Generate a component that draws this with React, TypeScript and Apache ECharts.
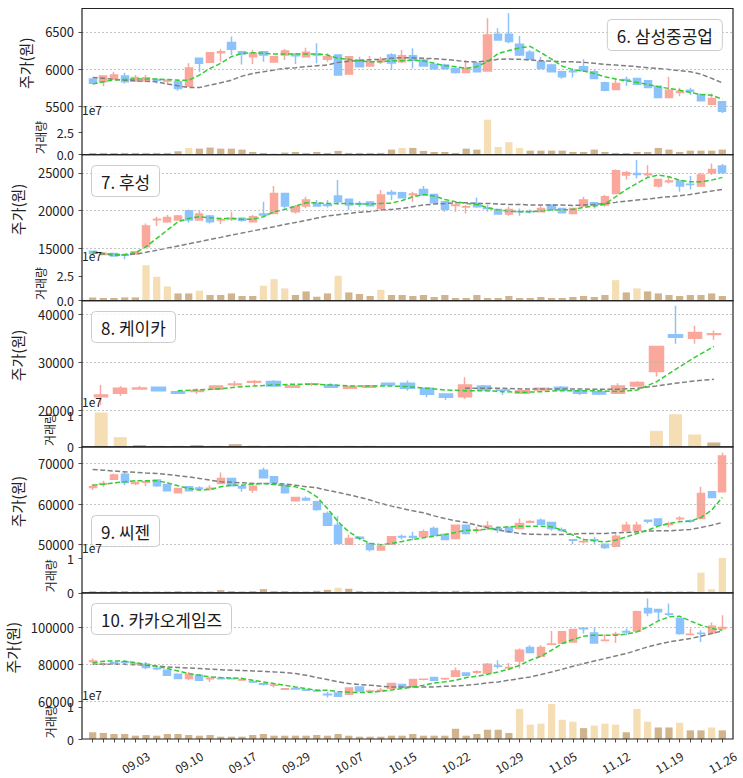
import React, { useEffect, useRef } from 'react';
import * as echarts from 'echarts';

// ---------- DATA ----------
const dates = ['08.30','08.31','09.01','09.02','09.03','09.06','09.07','09.08','09.09','09.10','09.13','09.14','09.15','09.16','09.17','09.23','09.24','09.27','09.28','09.29','09.30','10.01','10.05','10.06','10.07','10.08','10.12','10.13','10.14','10.15','10.18','10.19','10.20','10.21','10.22','10.25','10.26','10.27','10.28','10.29','11.01','11.02','11.03','11.04','11.05','11.08','11.09','11.10','11.11','11.12','11.15','11.16','11.17','11.18','11.19','11.22','11.23','11.24','11.25','11.26'];
const kcarDates = dates.slice(27);

// [open, close, low, high]
const shiOhlc = [
[5865,5810,5800,5870],[5829,5905,5770,5905],[5865,5919,5860,5964],[5905,5829,5806,5950],[5838,5887,5830,5919],
[5842,5883,5838,5919],[5860,5850,5806,5873],[5840,5851,5793,5851],[5829,5739,5707,5865],[5770,6014,5770,6077],
[6144,6077,5964,6144],[6090,6221,6085,6225],[6221,6234,6100,6270],[6356,6266,6189,6437],[6234,6203,6063,6234],
[6167,6212,6068,6257],[6234,6189,6099,6234],[6095,6167,6090,6170],[6189,6243,6122,6270],[6203,6180,6068,6210],
[6167,6225,6153,6288],[6200,6189,6077,6347],[6131,6167,6099,6212],[6189,5919,5919,6200],[5932,6167,5932,6167],
[6122,6031,6031,6167],[6040,6100,6031,6176],[6100,6122,6068,6167],[6189,6080,5990,6212],[6099,6180,6077,6257],
[6180,6120,6009,6279],[6122,6040,6030,6140],[6060,6005,5995,6070],[6054,6009,5990,6070],[6009,5955,5940,6015],
[5955,6009,5950,6122],[6077,5964,5960,6090],[5973,6459,5964,6685],[6468,6392,6380,6550],[6468,6370,6347,6752],
[6333,6189,6176,6445],[6225,6131,6122,6257],[6099,6009,6000,6167],[6054,5964,5955,6070],[5964,5896,5870,5977],
[5973,5964,5887,6009],[6032,5977,5964,6131],[5964,5874,5870,5990],[5815,5716,5700,5830],[5725,5806,5720,5874],
[5860,5850,5775,5900],[5874,5797,5790,5880],[5842,5752,5745,5850],[5770,5617,5610,5775],[5617,5716,5612,5896],
[5685,5700,5635,5748],[5716,5700,5650,5748],[5658,5572,5565,5665],[5527,5604,5520,5671],[5559,5432,5410,5560]];
const shiMa5 = [5797,5830,5851,5860,5865,5865,5865,5858,5851,5851,5919,6009,6077,6167,6212,6221,6212,6203,6203,6203,
6203,6203,6189,6144,6131,6108,6099,6099,6112,6112,6122,6108,6077,6045,6032,6009,6032,6100,6210,6250,
6285,6305,6220,6135,6040,5990,5975,5940,5896,5865,5842,5820,5793,5761,5739,5716,5685,5658,5649,5594];
const shiMa20 = [5887,5875,5860,5851,5842,5835,5829,5800,5775,5752,5752,5784,5815,5851,5905,5941,5964,5986,6009,6018,
6032,6045,6054,6090,6105,6115,6125,6131,6144,6153,6153,6144,6140,6130,6115,6100,6095,6112,6131,6135,
6131,6122,6112,6108,6099,6099,6090,6077,6063,6054,6045,6032,6018,6009,5995,5977,5964,5932,5874,5815];
const shiVol = [1.9,1.9,1.9,1.9,1.9,1.9,1.9,1.9,3.8,7.6,6.8,8.0,6.8,6.8,5.7,3.0,1.9,1.1,2.3,3.0,
1.9,3.0,1.9,4.2,1.9,1.9,1.9,1.9,5.7,7.6,7.6,4.2,3.0,3.0,1.9,6.8,5.7,39.8,8.7,14.0,
7.6,4.5,4.5,4.5,4.5,3.0,3.0,5.7,3.0,1.9,1.9,3.0,3.0,7.6,5.7,3.0,4.5,4.5,4.5,5.7];
const shiHigh = [9, 29, 37, 38, 39, 40];
const shiTicks = [5500, 6000, 6500];

const fsOhlc = [
[14650,14400,14300,14700],[14250,14400,14200,14450],[14380,14050,14000,14400],[14200,14150,13600,14250],[14300,14600,14250,14650],
[15260,17980,15200,18330],[18800,18870,17980,19210],[18550,19120,18420,19430],[18770,19300,18700,19450],[20000,18770,18420,20175],
[18770,19560,18700,20000],[19300,18550,18330,19430],[18770,18860,18250,19080],[18900,19000,18640,19870],[19000,18750,18550,19100],
[18550,19210,18500,19430],[19560,19430,19300,21180],[19650,22280,19600,23250],[22280,20610,20175,22300],[19870,20530,19650,20750],
[20610,21400,20310,21840],[20960,20610,20530,21400],[20800,20700,20440,21400],[21950,21180,20750,24040],[21500,20750,20090,21550],
[20950,20850,20500,21280],[21150,20650,20550,21200],[20310,22060,20090,22720],[22400,22200,21400,22720],[22370,21710,21600,22500],
[22100,22200,21180,22500],[22800,22060,21900,23250],[22150,21050,21000,22200],[21180,20180,19870,21200],[20700,20750,19870,20960],
[20500,20530,19650,20750],[20960,20530,20400,21750],[20350,20300,19870,20750],[20175,19560,19500,20200],[19560,20175,19340,20530],
[19900,19870,19340,20300],[19900,19850,19650,20175],[19870,20300,19800,20610],[20750,20175,20100,20800],[20300,19740,19700,20350],
[19650,20300,19500,20400],[20610,21400,20500,21840],[21050,20750,20300,21100],[20750,21840,20530,22060],[22280,25260,22200,25440],
[24700,25000,24120,25260],[24900,24780,24250,26670],[24750,24820,24470,26000],[23250,24120,23070,24200],[23800,23900,23600,24470],
[23900,23250,22500,24000],[23500,23450,22800,24560],[23250,24700,23200,25000],[25000,25440,24700,26230],[25880,25000,24900,26140]];
const fsMa5 = [14600,14390,14250,14250,14470,15260,16360,17456,18550,18990,19210,19080,18990,18990,18900,18860,19210,19870,20175,20610,
21050,21050,20960,20960,20960,20880,20880,20960,21000,21350,21840,22150,21930,21490,21180,20960,20830,20390,20090,19960,
19870,19870,19960,20090,20090,20175,20440,20610,20880,21840,22800,23600,24390,24690,24470,24030,23800,23800,24030,24390];
const fsMa20 = [14470,14300,14160,14200,14300,14520,14800,15090,15370,15650,15930,16210,16490,16780,17060,17350,17630,17900,18180,18460,
18740,19030,19310,19480,19650,19800,19910,20090,20175,20310,20530,20750,20880,20960,21050,21050,20960,20960,20880,20830,
20830,20750,20750,20750,20750,20700,20750,20830,20960,21100,21270,21400,21530,21710,21840,21970,22150,22370,22590,22800];
const fsVol = [3.3,2.7,2.7,3.3,3.3,35.6,24.0,14.3,7.3,7.3,10.0,5.7,5.7,7.3,4.7,4.7,15.0,21.6,12.3,5.7,
9.3,4.0,7.3,25.0,8.3,6.7,4.7,11.0,5.7,5.7,4.7,5.7,3.7,5.7,2.7,2.7,5.7,2.7,2.7,4.7,
2.7,2.7,3.7,2.7,2.7,3.7,4.7,3.7,5.7,20.6,8.3,12.3,9.3,7.3,5.7,4.7,5.7,5.7,7.3,4.7];
const fsHigh = [5, 6, 7, 10, 16, 17, 18, 23, 27, 49, 51];
const fsTicks = [15000, 20000, 25000];

const kcOhlc = [
[22800,23150,21050,25250],[23500,24550,23000,25040],[24400,24600,24340,25040],[24760,24060,24000,24760],[23850,23500,23500,23850],
[23900,24100,23360,24550],[24340,25040,24200,25200],[25300,25450,25040,26090],[25800,25950,25250,26300],[25950,25040,24900,26300],
[24760,25100,24700,25250],[25400,25500,25040,25740],[25250,24760,24700,25600],[24550,24900,24500,25040],[24760,25100,24700,25250],
[25600,25250,25200,25600],[25600,24550,24060,26160],[24550,23290,22660,24550],[23360,22660,22100,23400],[22800,25250,22380,26860],
[25040,24200,24100,25250],[24200,24150,23150,24300],[23500,24060,23400,24100],[24200,24550,24150,24600],[24760,24200,24100,25040],
[24060,23500,23150,24100],[23850,23360,23150,23900],[23500,25040,23400,25600],[25040,25740,24950,26090],[28040,33290,26990,33300],
[35730,35240,33840,41820],[35030,36220,33840,37620],[35800,35940,34680,36640]];
const kcMa5 = [null,null,null,null,24060,24200,24400,24760,25040,25250,25390,25390,25250,25040,25040,25040,24900,24550,24200,24060,
24060,23850,23710,23850,24060,24060,24060,23850,24200,25900,28500,31000,33290];
const kcMa20 = [null,null,null,null,null,null,null,null,null,null,null,null,null,null,null,null,null,null,null,24550,
24550,24550,24400,24400,24400,24400,24340,24340,24550,25040,25600,26090,26430];
const kcVol = [10.85,3.05,0.53,0.3,0.3,0.53,0.3,0.84,0.3,0.3,0.3,0.3,0.2,0.3,0.3,0.2,0.2,0.2,0.2,0.2,
0.2,0.2,0.1,0.1,0.1,0.1,0.1,0.2,0.2,5.05,10.3,3.9,1.37];
const kcHigh = [0, 1, 29, 30, 31];
const kcTicks = [20000, 30000, 40000];

const sgOhlc = [
[64100,64300,63460,64940],[64900,65100,64280,65760],[66170,67160,66000,67570],[67400,65350,64690,67980],[65100,65270,64690,65760],
[65400,65500,64440,65930],[65930,64530,64300,66000],[64850,63290,63200,64900],[62800,63860,62700,63900],[64280,63290,63200,64300],
[64000,63800,63460,64440],[63800,63900,63290,64690],[65100,66340,65000,67820],[66340,64530,64400,66500],[64280,64000,63050,64300],
[63460,64440,62800,65350],[68390,66500,66400,69050],[66750,65350,65300,66900],[64690,62800,62700,64800],[60820,61640,60700,61800],
[61400,61000,60800,61900],[60580,58690,58350,60820],[57700,54810,54700,58200],[54810,50290,50100,57000],[50120,51520,50000,52500],
[51800,51600,51100,52100],[50290,48810,48300,50400],[48650,49630,48600,50000],[50120,51930,50000,52000],[52000,51900,51270,52500],
[52000,51850,51100,53170],[51930,53170,51850,53750],[54000,52340,52200,54500],[52510,51280,51100,52700],[51520,54810,51300,55000],
[54810,52760,52500,55000],[53500,53600,52760,54400],[54400,54600,53580,55800],[53900,53700,52920,54570],[54240,53170,53000,54400],
[53990,55230,53900,56460],[55500,55700,55390,56050],[56050,55060,54900,56460],[55470,53990,53420,55600],[53700,53500,53170,54240],
[51200,51100,50120,51200],[50700,50800,50290,51520],[51200,51050,50120,51930],[50120,49300,48900,50200],[49630,52100,49500,52760],
[53420,54810,53300,55640],[53580,54810,53400,55640],[56050,55800,55230,56050],[56300,54810,54700,56400],[55000,55100,54240,55640],
[56400,56500,55880,57040],[55900,55800,55390,56220],[56460,62630,56300,64280],[63050,61650,61500,63200],[63050,71850,62900,72670]];
const sgMa5 = [64690,64900,65270,65500,65760,65760,65760,65270,64530,63870,63460,63620,64280,64690,64690,64940,65100,64860,64530,64280,
63460,61810,58930,55640,53170,51520,50290,50000,50300,50800,51300,51700,52100,52500,53000,53580,53580,53830,54240,54400,
54570,54570,54570,54400,53580,52340,51280,50950,50700,51110,51930,52760,53580,54570,55230,55640,55800,56710,58520,61650];
const sgMa20 = [68560,68370,68170,67980,67840,67700,67570,67300,67020,66750,66340,65930,65510,65390,65270,65100,65100,65100,64940,64690,
64280,64030,63400,62900,62300,61700,61000,60160,59510,58930,58350,57860,57100,56460,55900,55470,54810,54160,53580,53170,
52760,52590,52510,52510,52510,52590,52760,52760,52760,52920,53000,53170,53330,53420,53420,53580,53750,54240,54810,55470];
const sgVol = [0.5,0.4,0.5,0.5,0.4,0.4,0.4,0.4,0.5,0.4,0.4,0.4,0.8,0.5,0.4,0.5,1.1,0.5,0.5,0.4,
0.4,0.6,0.9,1.5,1.2,0.5,0.4,0.4,0.4,0.4,0.4,0.4,0.5,0.4,0.6,0.5,0.4,0.5,0.4,0.4,
0.5,0.4,0.4,0.4,0.4,0.4,0.5,0.4,0.4,0.5,0.4,0.4,0.5,0.4,0.4,0.4,0.4,5.9,1.07,10.2];
const sgHigh = [23, 57, 58, 59];
const sgTicks = [50000, 60000, 70000];

const kgOhlc = [
[81500,81800,80720,83080],[80000,80200,79100,80900],[80900,80700,80000,81260],[81400,81100,80000,82170],[80200,80400,79820,80900],
[80000,78190,77280,81260],[77800,77550,76740,78900],[76740,74030,73850,77000],[74570,72220,72040,74750],[72220,74570,71310,75840],
[74030,71310,71130,74570],[72100,72300,70410,73120],[72400,72200,71800,72600],[72300,72100,71900,72400],[71500,71700,70950,72760],
[70600,70400,69850,71300],[69400,69100,68500,69850],[68600,68800,67330,69860],[66500,66700,66250,67150],[66800,66600,66100,67330],
[66100,65900,65500,66600],[65700,65500,64900,66250],[63700,63500,61900,64970],[64430,62620,62400,64600],[63710,67150,63500,67300],
[67690,65520,65200,68050],[65400,65520,64430,66250],[65800,65900,64970,67150],[66790,69500,66600,69800],[68960,67330,67150,69300],
[68050,71670,67860,72000],[71800,71900,71300,72300],[72760,71310,71000,72800],[72100,72300,71500,72700],[73480,76380,73300,78190],
[75300,74030,73850,75500],[75700,75900,74570,76740],[75300,80000,75100,80720],[79100,78900,77650,82170],[78000,78200,76740,80720],
[81800,87600,77650,88500],[89050,86340,86000,90320],[84340,89050,84000,90320],[90800,91000,90320,98100],[91580,97560,91400,97700],
[92130,98820,92000,99000],[99500,99300,96650,100270],[97010,91580,91400,99900],[92900,93030,92500,96290],[96100,96290,91580,97560],
[97700,97500,95750,99370],[98100,108420,97900,109000],[110230,107870,106060,115650],[109680,108420,103530,109800],[107300,107150,106060,112940],
[104800,96650,96000,105000],[96100,96290,95750,99370],[96800,96650,92130,98460],[97010,100630,96800,102620],[99300,99900,99300,106600]];
const kgMa5 = [80720,81630,81810,81630,80900,80000,78910,77650,76380,74930,74030,73120,72760,72580,72220,71310,70410,69500,68600,67690,
66790,65880,65880,65200,64800,64610,64800,65300,66000,66800,67700,68600,69800,70500,71310,72760,73480,74570,75840,77280,
79460,82170,84340,87600,91220,93390,95200,95750,95750,95750,96290,97560,100270,103530,105700,106060,103530,101180,99370,98460];
const kgMa20 = [80000,80000,80000,80000,79730,79460,79000,78550,78250,77950,77650,77350,77050,76740,76560,76380,76110,75840,75480,74930,
74030,72760,71670,70410,69500,68960,68600,68050,67690,67690,67690,67690,67690,68050,68240,68600,69140,69860,70410,71310,
72220,73120,74390,75840,77280,78910,80360,81810,83080,84520,85790,87600,89410,90860,92130,93030,93940,95200,96650,98100];
const kgVol = [2.1,1.9,1.56,1.56,1.04,1.25,1.04,1.56,1.56,1.25,1.04,1.25,0.73,0.73,0.73,1.25,1.56,1.04,1.04,1.04,
1.04,1.25,1.04,1.56,1.04,0.73,0.73,0.73,1.04,1.04,1.56,1.04,1.04,1.04,3.2,1.04,1.56,2.9,2.9,1.87,
9.4,4.5,4.8,10.9,6.0,5.4,3.4,4.2,4.8,4.5,2.1,9.4,5.4,3.6,3.6,5.1,2.7,2.7,3.6,2.7];
const kgHigh = [40, 41, 42, 43, 44, 45, 47, 48, 49, 51, 52, 55, 58];
const kgTicks = [60000, 80000, 100000];

// volume tick values in units of 1e6 (label shows units of 1e7)
const volTicks1 = [0, 25];
const volTicks2 = [0, 10];

// ---------- LAYOUT / STYLE ----------
const FONT = "'Noto Sans CJK KR', 'Noto Sans', sans-serif";
const UP = '#f9a89b';
const DOWN = '#8cc3fc';
const TAN = '#d2b48c';
const WHEAT = '#f5deb3';
const MA5C = '#32cd32';
const MA20C = '#7f7f7f';
const PLOT_LEFT = 82;
const PLOT_W = 651;
const TOP0 = 8.5;
const PANEL_H = 146.1;
const PRICE_H = 109.6;

const panels = [
  { title: '6. 삼성중공업', cats: dates, ohlc: shiOhlc, ma5: shiMa5, ma20: shiMa20, vol: shiVol, high: shiHigh, ticks: shiTicks, vt: volTicks1, dec: true },
  { title: '7. 후성', cats: dates, ohlc: fsOhlc, ma5: fsMa5, ma20: fsMa20, vol: fsVol, high: fsHigh, ticks: fsTicks, vt: volTicks1, dec: true },
  { title: '8. 케이카', cats: kcarDates, ohlc: kcOhlc, ma5: kcMa5, ma20: kcMa20, vol: kcVol, high: kcHigh, ticks: kcTicks, vt: volTicks2, dec: false },
  { title: '9. 씨젠', cats: dates, ohlc: sgOhlc, ma5: sgMa5, ma20: sgMa20, vol: sgVol, high: sgHigh, ticks: sgTicks, vt: volTicks2, dec: false },
  { title: '10. 카카오게임즈', cats: dates, ohlc: kgOhlc, ma5: kgMa5, ma20: kgMa20, vol: kgVol, high: kgHigh, ticks: kgTicks, vt: volTicks2, dec: false },
];
const axisRange = [
  { pMin: 5340, pMax: 6815, vMax: 41.6 },
  { pMin: 12960, pMax: 27390, vMax: 36.6 },
  { pMin: 19950, pMax: 42860, vMax: 11.55 },
  { pMin: 47100, pMax: 74150, vMax: 10.64 },
  { pMin: 59250, pMax: 118700, vMax: 11.4 },
];
const titlePos: any[] = [
  { right: 20, top: 19 },
  { left: 91, top: 165 },
  { left: 91, top: 311 },
  { left: 91, top: 515 },
  { left: 91, top: 603 },
];
// x centres of the rotated axis names
const priceNameX = [25, 17.5, 17.5, 17.5, 12.5];
const volNameX = [40, 40, 49, 50, 50];

function buildOption() {
  const grid: any[] = [];
  const xAxis: any[] = [];
  const yAxis: any[] = [];
  const series: any[] = [];
  const graphic: any[] = [];
  const title: any[] = [];
  const txt = { color: '#222', fontFamily: FONT };

  panels.forEach((p, k) => {
    const top = TOP0 + PANEL_H * k;
    const isLast = k === panels.length - 1;
    const n = p.cats.length;
    const cats = ['', ...p.cats, ''];
    const r = axisRange[k];
    const gi = 2 * k;

    grid.push({ left: PLOT_LEFT, top, width: PLOT_W, height: PRICE_H });
    grid.push({ left: PLOT_LEFT, top: top + PRICE_H, width: PLOT_W, height: PANEL_H - PRICE_H });

    xAxis.push({
      type: 'category', gridIndex: gi, data: cats, boundaryGap: false,
      axisLine: { show: false }, axisTick: { show: false }, axisLabel: { show: false }, splitLine: { show: false },
    });
    xAxis.push({
      type: 'category', gridIndex: gi + 1, data: cats, boundaryGap: false,
      axisLine: { show: false },
      axisTick: isLast
        ? { show: true, length: 3.5, interval: (i: number) => i >= 1 && i <= n, lineStyle: { color: '#222', width: 0.8 } }
        : { show: false },
      axisLabel: isLast
        ? { show: true, interval: (i: number) => i >= 1 && i <= n && (i - 1) % 5 === 4, rotate: 30, align: 'center', verticalAlign: 'middle', margin: 23, fontSize: 12, ...txt }
        : { show: false },
      splitLine: { show: false },
    });

    yAxis.push({
      type: 'value', gridIndex: gi, min: r.pMin, max: r.pMax,
      axisLine: { show: false }, splitLine: { show: false },
      axisTick: { show: true, length: 3.5, customValues: p.ticks, lineStyle: { color: '#222', width: 0.8 } },
      axisLabel: { customValues: p.ticks, fontSize: 13, margin: 8, ...txt, formatter: (v: number) => String(Math.round(v)) },
    });
    yAxis.push({
      type: 'value', gridIndex: gi + 1, min: 0, max: r.vMax,
      axisLine: { show: false }, splitLine: { show: false },
      axisTick: { show: true, length: 3.5, customValues: p.vt, lineStyle: { color: '#222', width: 0.8 } },
      axisLabel: {
        customValues: p.vt, fontSize: 12.5, margin: 8, ...txt,
        formatter: (v: number) => (p.dec ? (v / 10).toFixed(1) : String(Math.round(v / 10))),
      },
    });

    const empty = ['-', '-', '-', '-'];
    series.push({
      type: 'candlestick', xAxisIndex: gi, yAxisIndex: gi, barWidth: '72%',
      data: [empty, ...p.ohlc, empty],
      itemStyle: { color: UP, color0: DOWN, borderColor: UP, borderColor0: DOWN, borderWidth: 1.5 },
      markLine: {
        silent: true, symbol: ['none', 'none'], label: { show: false },
        lineStyle: { color: '#b5b5b5', width: 0.8, type: [2, 2] },
        data: p.ticks.map((v) => ({ yAxis: v })),
      },
      z: 2,
    });
    series.push({
      type: 'line', xAxisIndex: gi, yAxisIndex: gi, data: [null, ...p.ma20, null],
      showSymbol: false, symbol: 'none', lineStyle: { color: MA20C, width: 1.5, type: [5, 2.5] }, z: 3,
    });
    series.push({
      type: 'line', xAxisIndex: gi, yAxisIndex: gi, data: [null, ...p.ma5, null],
      showSymbol: false, symbol: 'none', lineStyle: { color: MA5C, width: 1.5, type: [5, 2.5] }, z: 4,
    });
    series.push({
      type: 'bar', xAxisIndex: gi + 1, yAxisIndex: gi + 1, barWidth: '68%',
      data: ['-', ...p.vol.map((v, i) => ({ value: v, itemStyle: { color: p.high.includes(i) ? WHEAT : TAN } })), '-'],
    });

    title.push({
      text: p.title, ...titlePos[k], padding: [6, 10],
      borderColor: '#cccccc', borderWidth: 1, borderRadius: 4, backgroundColor: 'rgba(255,255,255,0.85)',
      textStyle: { fontSize: 17, fontWeight: 'normal', color: '#1a1a1a', fontFamily: FONT, lineHeight: 20 },
    });

    graphic.push({
      type: 'rect', silent: true, z: 100,
      shape: { x: PLOT_LEFT, y: top, width: PLOT_W, height: PANEL_H },
      style: { fill: 'none', stroke: '#222', lineWidth: 1.2 },
    });
    graphic.push({
      type: 'text', silent: true, z: 100, x: priceNameX[k], y: top + PRICE_H / 2, rotation: Math.PI / 2,
      style: { text: '주가(원)', fontSize: 15, fontFamily: FONT, fill: '#222', align: 'center', verticalAlign: 'middle', textAlign: 'center', textVerticalAlign: 'middle' },
    });
    graphic.push({
      type: 'text', silent: true, z: 100, x: volNameX[k], y: top + PRICE_H + (PANEL_H - PRICE_H) / 2 + 1, rotation: Math.PI / 2,
      style: { text: '거래량', fontSize: 12, fontFamily: FONT, fill: '#222', align: 'center', verticalAlign: 'middle', textAlign: 'center', textVerticalAlign: 'middle' },
    });
    graphic.push({
      type: 'text', silent: true, z: 100, x: PLOT_LEFT, y: top + PRICE_H - 2.5,
      style: { text: '1e7', fontSize: 12, fontFamily: FONT, fill: '#222', align: 'left', verticalAlign: 'bottom', textAlign: 'left', textVerticalAlign: 'bottom' },
    });
  });

  return { animation: false, backgroundColor: '#ffffff', title, grid, xAxis, yAxis, series, graphic };
}

export default function App() {
  const ref = useRef<HTMLDivElement>(null);
  useEffect(() => {
    if (!ref.current) return;
    const chart = echarts.init(ref.current, null, { renderer: 'svg' });
    chart.setOption(buildOption() as any);
    return () => chart.dispose();
  }, []);
  return <div ref={ref} style={{ position: 'fixed', left: 0, top: 0, width: 743, height: 778, background: '#fff' }} />;
}
